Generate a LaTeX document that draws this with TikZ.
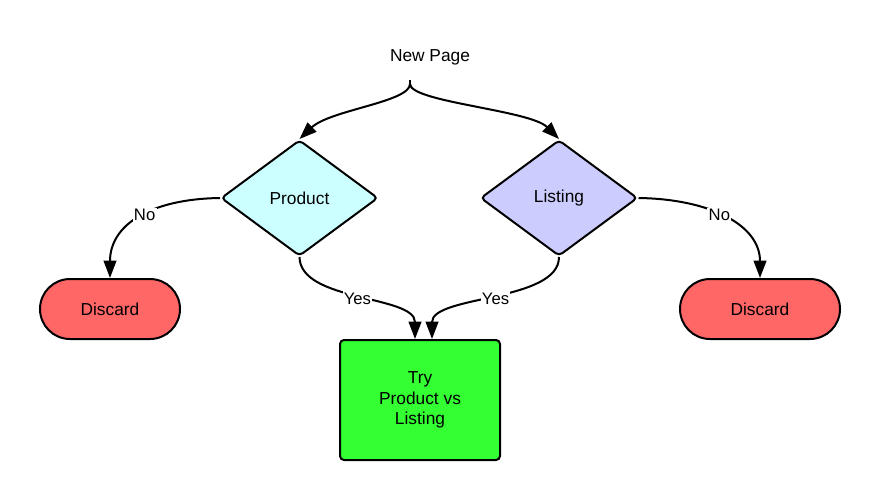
\documentclass[tikz,border=0pt]{standalone}
\usepackage{fontspec}
\setmainfont{Liberation Sans}
\usetikzlibrary{shapes.geometric,shapes.misc,arrows.meta}
\definecolor{prodcol}{HTML}{CCFFFF}
\definecolor{listcol}{HTML}{CCCCFF}
\definecolor{discol}{HTML}{FF6666}
\definecolor{trycol}{HTML}{33FF33}
\begin{document}
\begin{tikzpicture}[x=0.75pt,y=-0.75pt,
  every node/.style={font=\fontsize{13}{15.5}\selectfont},
  decision/.style={shape=diamond,draw=black,line width=1.5pt,inner sep=0pt,
    minimum width=117.75pt,minimum height=87pt,rounded corners=3pt},
  pill/.style={shape=rounded rectangle,draw=black,line width=1.5pt,fill=discol,
    minimum height=45pt,inner sep=0pt},
  tryboxstyle/.style={rectangle,draw=black,line width=1.5pt,fill=trycol,
    rounded corners=3pt,minimum width=120pt,minimum height=90pt,align=center,inner sep=0pt},
  conn/.style={line width=1.5pt,-{Triangle[length=13pt,width=9.5pt]}},
  lbl/.style={fill=white,inner sep=1pt,font=\fontsize{12.5}{14}\selectfont}]
\useasboundingbox (0,0) rectangle (880,500);
\node (newpage) at (430,57) {New Page};
\coordinate (fork) at (410,84);
\node[decision,fill=prodcol] (product) at (299.5,198) {Product};
\node[decision,fill=listcol] (listing) at (559,198) {Listing};
\node[pill,minimum width=105pt] (discL) at (110,309) {Discard};
\node[pill,minimum width=120pt] (discR) at (760,309) {Discard};
\node[tryboxstyle] (try) at (420,400) {Try\\Product vs\\Listing};
\draw[line width=1.5pt] ([yshift=3pt]fork) -- (fork);
\draw[conn] (fork) .. controls (410,102) and (330,110) .. (product.north);
\draw[conn] (fork) .. controls (410,102) and (530,110) .. (listing.north);
\draw[conn] (product.west) .. controls (150,199) and (110,225) .. node[lbl,pos=0.45] {No} (discL.north);
\draw[conn] (listing.east) .. controls (710,199) and (760,225) .. node[lbl,pos=0.45] {No} (discR.north);
\draw[conn] (product.south) .. controls (300,302) and (415,295) .. node[lbl,pos=0.5] {Yes} ([xshift=-3.75pt]try.north);
\draw[conn] (listing.south) .. controls (559,302) and (432,295) .. node[lbl,pos=0.5] {Yes} ([xshift=9pt]try.north);
\end{tikzpicture}
\end{document}
